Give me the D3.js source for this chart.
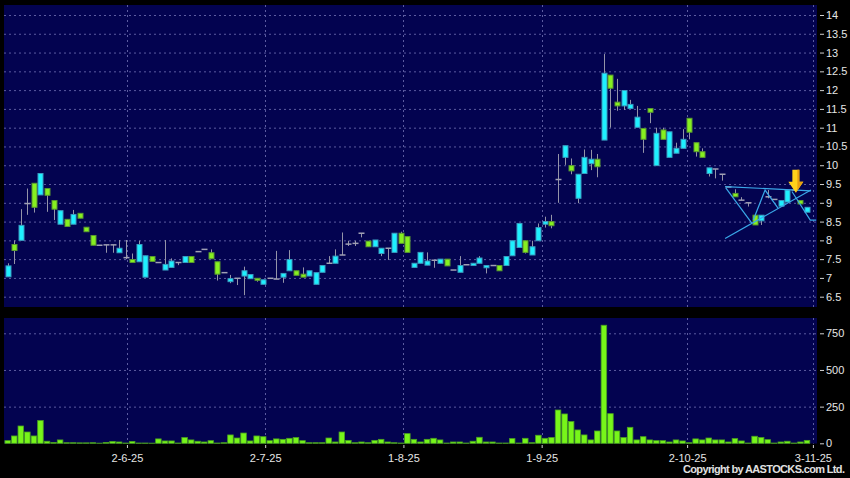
<!DOCTYPE html>
<meta charset="utf-8">
<script src="https://d3js.org/d3.v7.min.js"></script>
<style>
body { margin: 0; background: #000; }
text { font-family: "Liberation Sans", Arial, sans-serif; fill: #e6e6e6; }
.grid line { stroke: #5c5ca0; stroke-width: 1px; stroke-dasharray: 2,3; }
.axis path { display: none; }
.axis line { stroke: #d0d0d0; }
.axis text { font-size: 11px; fill: #e6e6e6; }
</style>
<body>
<script>

// daily OHLC, one entry per trading day (May-25 .. 3-Nov-25)
var opens = [7.03,7.89,8.00,8.98,9.52,9.21,9.38,9.06,8.43,8.56, 8.43,8.72,8.35,8.13,7.87,7.88,7.88,7.67,7.54,7.49,
  7.43,7.02,7.57,7.41,7.21,7.28,7.41,7.41,7.57,7.70, 7.76,7.67,7.43,7.14,6.90,6.99,7.05,6.98,6.99,6.83,
  6.99,6.97,7.02,7.19,7.19,7.10,7.05,6.83,7.15,7.39, 7.39,7.61,7.90,7.92,8.19,7.98,7.83,7.65,7.79,7.68,
  8.19,8.10,7.28,7.39,7.34,7.47,7.39,7.50,7.21,7.15, 7.35,7.33,7.39,7.27,7.33,7.33,7.33,7.59,7.81,7.99,
  7.61,7.99,8.43,8.50,9.62,10.21,9.99,9.12,9.78,10.04, 10.16,10.67,12.40,11.68,11.58,11.51,11.01,10.98,11.51,9.99,
  10.94,10.21,10.32,10.45,11.25,10.60,10.36,9.78,9.90,9.76, 9.42,9.25,9.07,9.00,8.67,8.52,9.16,9.09,8.91,9.02,
  9.34,9.06,8.75];
var closes = [7.32,7.73,8.40,8.98,8.88,9.78,9.20,8.83,8.79,8.37, 8.69,8.59,8.23,7.87,7.87,7.88,7.88,7.79,7.54,7.41,
  7.89,7.59,7.44,7.41,7.36,7.45,7.41,7.57,7.41,7.70, 7.76,7.51,7.10,7.14,6.98,6.99,7.19,7.09,6.94,6.95,
  6.99,6.97,7.12,7.49,7.07,7.02,7.19,7.14,7.33,7.39, 7.58,7.61,7.90,7.92,8.19,7.83,8.01,7.79,7.79,8.19,
  7.92,7.68,7.39,7.68,7.45,7.47,7.50,7.32,7.21,7.33, 7.35,7.39,7.53,7.33,7.33,7.19,7.57,7.99,8.45,7.68,
  7.83,8.34,8.50,8.39,9.62,10.52,9.85,9.76,10.21,10.16, 9.96,12.45,12.05,11.58,11.99,11.62,11.28,10.69,11.41,10.85,
  10.69,10.89,10.45,10.69,10.88,10.36,10.21,9.93,9.90,9.76, 9.42,9.16,9.07,9.00,8.41,8.67,9.16,9.09,9.06,9.34,
  9.34,8.97,8.88];
var highs = [7.39,8.00,8.83,9.38,9.52,9.78,9.38,9.06,8.79,8.56, 8.81,8.72,8.35,8.13,7.87,7.88,7.88,8.01,8.01,7.65,
  7.99,7.59,7.57,7.41,8.01,7.52,7.41,7.57,7.57,7.70, 7.76,7.76,7.43,7.14,7.08,6.99,7.30,7.09,6.99,6.95,
  6.99,7.72,7.12,7.74,7.19,7.28,7.19,7.14,7.33,7.58, 7.76,8.21,7.99,7.99,8.19,7.98,8.01,7.79,7.79,8.19,
  8.23,8.10,7.39,7.68,7.68,7.47,7.50,7.50,7.21,7.58, 7.35,7.39,7.58,7.33,7.33,7.33,7.57,7.99,8.45,7.99,
  7.99,8.45,8.63,8.68,10.30,10.52,10.18,9.76,10.42,10.41, 10.30,12.96,12.40,12.30,12.00,11.74,11.58,10.98,11.51,11.00,
  11.00,10.89,10.60,10.96,11.25,10.60,10.45,9.93,9.90,9.76, 9.42,9.36,9.15,9.00,8.67,8.67,9.34,9.09,9.06,9.34,
  9.34,9.06,8.88];
var lows = [7.03,7.37,8.00,8.68,8.74,9.21,8.76,8.54,8.43,8.37, 8.43,8.59,8.23,7.87,7.87,7.67,7.67,7.67,7.50,7.41,
  7.43,7.02,7.44,7.41,7.21,7.28,7.34,7.41,7.41,7.70, 7.76,7.51,6.93,7.14,6.86,6.81,6.54,6.98,6.90,6.83,
  6.99,6.97,6.87,7.19,7.07,7.02,7.05,6.83,7.15,7.39, 7.39,7.61,7.85,7.85,8.08,7.83,7.83,7.58,7.48,7.68,
  7.92,7.68,7.28,7.39,7.34,7.27,7.39,7.32,7.21,7.15, 7.35,7.33,7.39,7.12,7.33,7.19,7.33,7.59,7.81,7.65,
  7.61,7.99,8.34,8.32,9.00,10.01,9.76,8.99,9.78,9.87, 9.68,10.67,11.00,11.45,11.47,11.51,11.01,10.33,11.12,9.99,
  10.69,10.21,10.32,10.45,10.69,10.23,10.21,9.70,9.65,9.59, 9.42,9.16,9.07,8.90,8.41,8.41,9.12,9.09,8.91,9.02,
  9.34,8.97,8.75];
// volume ('000 shares)
var volumes = [18,50,118,77,50,155,14,5,23,4, 4,3,3,4,1,6,13,9,2,13,
  2,2,1,30,16,16,2,39,23,14, 9,18,2,4,57,36,70,16,50,45,
  18,30,27,34,39,18,4,4,4,36, 9,77,20,4,9,4,20,27,9,4,
  2,66,27,9,27,34,23,2,9,9, 2,14,41,9,9,2,2,32,2,34,
  4,55,34,39,227,200,148,91,57,23, 84,805,202,84,39,109,23,45,23,18,
  18,9,23,16,4,30,23,36,23,23, 9,32,16,2,48,39,25,2,9,14,
  2,9,20];

var priceTicks = [6.5,7,7.5,8,8.5,9,9.5,10,10.5,11,11.5,12,12.5,13,13.5,14];
var volumeTicks = [0,250,500,750];
var dateLabels = ["2-6-25","2-7-25","1-8-25","1-9-25","2-10-25","3-11-25"];
var datePos = [18.2,39.3,60.4,81.5,103.7,122.9];   // bar index of each month mark

// hand-drawn triangle pattern (bar index, price)
var patternLines = [
  [[109.5,9.43],[122.6,9.32]],
  [[109.5,8.05],[122.6,9.34]],
  [[109.6,9.40],[113.6,8.45]],
  [[113.8,8.54],[115.6,9.34],[117.6,8.85]],
  [[119.7,9.30],[122.5,8.54],[123.4,8.54]]
];
var arrowAt = [120.3, 9.27];

var width = 850, height = 478;
var top1 = 5, bot1 = 307, top2 = 318, bot2 = 443.5, left = 4, right = 817;

var x = d3.scaleLinear().domain([0, 122]).range([7.7, 807]);
var y = d3.scaleLinear().domain([6.5, 14]).range([296.7, 15]);
var yv = d3.scaleLinear().domain([0, 750]).range([443.3, 333.3]);
var step = x(1) - x(0);

var svg = d3.select("body").append("svg")
    .attr("width", width)
    .attr("height", height)
    .style("display", "block")
    .style("background", "#000");

svg.append("rect").attr("x", left).attr("y", top1)
    .attr("width", right - left).attr("height", bot1 - top1).attr("fill", "#030350");
svg.append("rect").attr("x", left).attr("y", top2)
    .attr("width", right - left).attr("height", bot2 - top2).attr("fill", "#030350");

// grid
var grid = svg.append("g").attr("class", "grid");
grid.selectAll(".hp").data(priceTicks).enter().append("line")
    .attr("x1", left).attr("x2", right)
    .attr("y1", d => y(d) + 0.5).attr("y2", d => y(d) + 0.5);
grid.selectAll(".hv").data(volumeTicks.slice(1)).enter().append("line")
    .attr("x1", left).attr("x2", right)
    .attr("y1", d => yv(d) + 0.5).attr("y2", d => yv(d) + 0.5);
grid.selectAll(".v1").data(datePos).enter().append("line")
    .attr("x1", d => Math.round(x(d)) + 0.5).attr("x2", d => Math.round(x(d)) + 0.5)
    .attr("y1", top1).attr("y2", bot1);
grid.selectAll(".v2").data(datePos).enter().append("line")
    .attr("x1", d => Math.round(x(d)) + 0.5).attr("x2", d => Math.round(x(d)) + 0.5)
    .attr("y1", top2).attr("y2", bot2);

// volume bars
svg.append("g").selectAll("rect")
    .data(volumes).enter().append("rect")
    .attr("x", (d, i) => x(i) - step / 2 + 0.5)
    .attr("width", step - 1)
    .attr("y", d => yv(d))
    .attr("height", d => yv(0) - yv(d))
    .attr("fill", "#77f51a")
    .attr("stroke", "#4aa020")
    .attr("stroke-width", 0.8);

// candles
var idx = d3.range(opens.length);
var cg = svg.append("g");
cg.selectAll(".wick").data(idx).enter().append("line")
    .attr("x1", i => Math.round(x(i)) + 0.5).attr("x2", i => Math.round(x(i)) + 0.5)
    .attr("y1", i => y(highs[i])).attr("y2", i => y(lows[i]))
    .attr("stroke", "#9494a8").attr("stroke-width", 1);
cg.selectAll(".flat").data(idx.filter(i => opens[i] === closes[i])).enter().append("line")
    .attr("x1", i => Math.round(x(i)) - 2.5).attr("x2", i => Math.round(x(i)) + 3.5)
    .attr("y1", i => y(opens[i])).attr("y2", i => y(opens[i]))
    .attr("stroke", "#a0a0b4").attr("stroke-width", 1.5);
cg.selectAll(".body").data(idx.filter(i => opens[i] !== closes[i])).enter().append("rect")
    .attr("x", i => Math.round(x(i)) - 2)
    .attr("width", 5)
    .attr("y", i => y(Math.max(opens[i], closes[i])))
    .attr("height", i => Math.max(2, y(Math.min(opens[i], closes[i])) - y(Math.max(opens[i], closes[i]))))
    .attr("fill", i => closes[i] > opens[i] ? "#1ef0ff" : "#86f020")
    .attr("stroke", i => closes[i] > opens[i] ? "#3a9cc0" : "#5a9a30")
    .attr("stroke-width", 1);

// pattern lines
var pl = d3.line().x(d => x(d[0])).y(d => y(d[1]));
svg.append("g").selectAll("path").data(patternLines).enter().append("path")
    .attr("d", pl)
    .attr("fill", "none")
    .attr("stroke", "#3aa8e8")
    .attr("stroke-width", 1.2);

// arrow
var ax = x(arrowAt[0]), ay = y(arrowAt[1]);
var ag = svg.append("g").attr("transform", "translate(" + ax + "," + ay + ")");
ag.append("path")
    .attr("d", "M-3.5,-23 L3.5,-23 L3.5,-11 L7.5,-11 L0,0 L-7.5,-11 L-3.5,-11 Z")
    .attr("fill", "#ffd21a");
ag.append("path")
    .attr("d", "M1.5,-23 L3.5,-23 L3.5,-11 L7.5,-11 L0,0 L1.5,-4 Z")
    .attr("fill", "#e8a010");

// right axes
svg.append("g").attr("class", "axis")
    .attr("transform", "translate(820,0)")
    .call(d3.axisRight(y).tickValues(priceTicks).tickSize(4).tickPadding(2).tickFormat(d3.format("")));
svg.append("g").attr("class", "axis")
    .attr("transform", "translate(820,0)")
    .call(d3.axisRight(yv).tickValues(volumeTicks).tickSize(4).tickPadding(2));

// date axis
svg.append("g").attr("class", "axis")
    .attr("transform", "translate(0," + 445 + ")")
    .call(d3.axisBottom(x).tickValues(datePos).tickSize(3).tickPadding(6)
      .tickFormat((d, i) => dateLabels[i]));

svg.append("text")
    .attr("x", 683).attr("y", 473)
    .attr("textLength", 162).attr("lengthAdjust", "spacing")
    .style("font-size", "11px")
    .style("font-weight", "bold")
    .style("fill", "#e0e0e0")
    .text("Copyright by AASTOCKS.com Ltd.");

</script>
</body>
